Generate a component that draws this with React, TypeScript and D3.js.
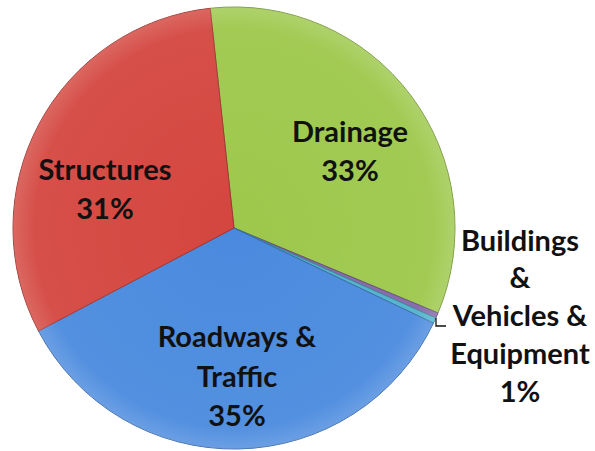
import React, { useEffect, useRef } from 'react';
import * as d3 from 'd3';

const categories = ['Drainage', 'Buildings', 'Vehicles & Equipment', 'Roadways & Traffic', 'Structures'];
const values = [33, 0.4, 0.4, 35.2, 31];
const colors = ['#9dc84b', '#8466a8', '#4db3cc', '#4a8ade', '#d4463f'];
// label lines per slice (empty = no inside label)
const insideLabels = [['Drainage', '33%'], [], [], ['Roadways &', 'Traffic', '35%'], ['Structures', '31%']];
const outsideLabel = ['Buildings', '&', 'Vehicles &', 'Equipment', '1%'];

export default function App() {
  const svgRef = useRef<SVGSVGElement>(null);

  useEffect(() => {
    if (!svgRef.current) return;
    const width = 595;
    const height = 451;
    const cx = 234;
    const cy = 228;
    const r = 221;

    const svg = d3.select(svgRef.current);
    svg.selectAll('*').remove();
    svg.attr('width', width).attr('height', height).style('font-family', 'Lato, sans-serif');

    const defs = svg.append('defs');
    const grad = defs.append('radialGradient').attr('id', 'bevel').attr('cx', '50%').attr('cy', '50%').attr('r', '50%');
    grad.append('stop').attr('offset', '0%').attr('stop-color', '#fff').attr('stop-opacity', 0);
    grad.append('stop').attr('offset', '90%').attr('stop-color', '#fff').attr('stop-opacity', 0.05);
    grad.append('stop').attr('offset', '100%').attr('stop-color', '#fff').attr('stop-opacity', 0.18);

    const pie = d3.pie<number>().sort(null).startAngle(-0.108).endAngle(-0.108 + 2 * Math.PI);
    const arcs = pie(values);
    const arc = d3.arc<d3.PieArcDatum<number>>().innerRadius(0).outerRadius(r);

    const g = svg.append('g').attr('transform', `translate(${cx},${cy})`);

    g.selectAll('path.slice')
      .data(arcs)
      .join('path')
      .attr('class', 'slice')
      .attr('d', arc)
      .attr('fill', (_, i) => colors[i])
      .attr('stroke', (_, i) => d3.color(colors[i])!.darker(0.8).toString())
      .attr('stroke-width', 1);

    // soft highlight over the whole pie
    g.append('circle').attr('r', r).attr('fill', 'url(#bevel)').style('pointer-events', 'none');

    // inside labels (centre of the text block, relative to pie centre)
    const labelPos = [
      [116, -78],
      null,
      null,
      [3, 147],
      [-129, -40],
    ];
    arcs.forEach((a, i) => {
      const lines = insideLabels[i];
      const pos = labelPos[i];
      if (!lines.length || !pos) return;
      const lh = 39.5;
      lines.forEach((t, k) => {
        g.append('text')
          .attr('x', pos[0])
          .attr('y', pos[1] + (k - (lines.length - 1) / 2) * lh)
          .attr('text-anchor', 'middle')
          .attr('dominant-baseline', 'central')
          .attr('fill', '#111')
          .style('font-size', '29px')
          .style('font-weight', '700')
          .text(t);
      });
    });

    // leader line for small slices
    svg.append('path')
      .attr('d', 'M436,318 L436,326 L446,326')
      .attr('fill', 'none')
      .attr('stroke', '#111')
      .attr('stroke-width', 1.3);

    outsideLabel.forEach((t, k) => {
      svg.append('text')
        .attr('x', 520)
        .attr('y', 239 + k * 37.8)
        .attr('text-anchor', 'middle')
        .attr('dominant-baseline', 'central')
        .attr('fill', '#111')
        .style('font-size', '29px')
        .style('font-weight', '700')
        .text(t);
    });
  }, []);

  return (
    <div style={{ position: 'absolute', left: 0, top: 0, background: '#fff' }}>
      <svg ref={svgRef} />
    </div>
  );
}
